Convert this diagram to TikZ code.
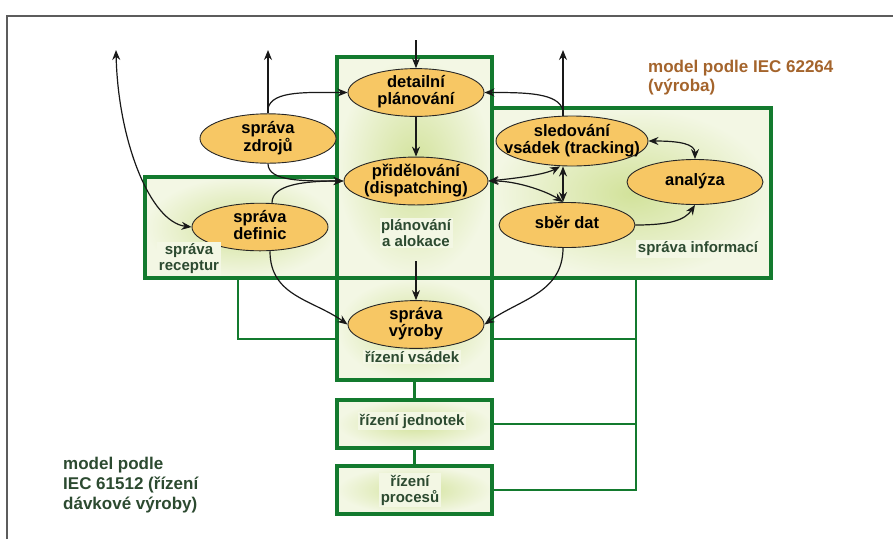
\documentclass[tikz,border=0pt]{standalone}
\usepackage{fontspec}
\setmainfont{Liberation Sans}
\usetikzlibrary{shapes.geometric,arrows.meta}
\definecolor{gborder}{HTML}{137A2E}
\definecolor{boxbg}{HTML}{F3F7E4}
\definecolor{glow}{HTML}{D2E29A}
\definecolor{ellfill}{HTML}{F7C764}
\definecolor{lbl}{HTML}{2C4A30}
\definecolor{brownt}{HTML}{A4642C}
\definecolor{framec}{HTML}{5C5C5C}
\newcommand{\etx}[1]{\makebox[0pt]{\begin{tabular}{@{}c@{}}#1\end{tabular}}}
\begin{document}
\begin{tikzpicture}[x=1pt,y=-1pt,
  area/.style={rectangle, draw=gborder, line width=3.6pt, inner color=glow, outer color=boxbg, outer sep=0pt, inner sep=0pt},
  ell/.style={ellipse, draw=black!85, line width=0.9pt, fill=ellfill, minimum width=136pt, minimum height=45pt, inner sep=0pt, font=\bfseries\fontsize{16.5}{16}\selectfont},
  lab/.style={font=\bfseries\fontsize{15}{16}\selectfont, text=lbl, fill=boxbg, inner sep=1.5pt, align=center},
  gline/.style={draw=gborder, line width=2.8pt},
  arr/.style={draw=black!90, line width=1.2pt, -{Stealth[length=10pt,width=8pt]}},
  darr/.style={draw=black!90, line width=1.2pt, {Stealth[length=10pt,width=8pt]}-{Stealth[length=10pt,width=8pt]}}
]
\useasboundingbox (0,0) rectangle (893,539);
% outer frame
\draw[framec, line width=2pt] (7,539) -- (7,16) -- (893,16);

% areas
\node[area, minimum width=192pt, minimum height=101pt] (rec) at (241,227.5) {};
\node[area, minimum width=279pt, minimum height=170pt] (info) at (631.5,193) {};
\node[area, minimum width=155pt, minimum height=221pt] (plan) at (414.5,167.5) {};
\node[area, minimum width=155pt, minimum height=102pt] (vsa) at (414.5,329) {};
\node[area, minimum width=155pt, minimum height=48pt] (jed) at (414.5,424) {};
\node[area, minimum width=155pt, minimum height=48pt] (pro) at (414.5,490) {};

% green connectors
\draw[gline] ([xshift=93pt]rec.south west) |- ([yshift=-10pt]vsa.west);
\draw[gline] ([xshift=144pt]info.south west) |- (pro.east);
\draw[gline] ([yshift=-10pt]vsa.east) -- ++(144,0);
\draw[gline] (jed.east) -- ++(144,0);
\draw[gline] (vsa.south) -- (jed.north);
\draw[gline] (jed.south) -- (pro.north);

% ellipses
\node[ell] (det) at (416,92.5) {\etx{detailní\\plánování}};
\node[ell, minimum width=144pt, minimum height=46pt] (pri) at (416,181) {\etx{přidělování\\(dispatching)}};
\node[ell] (zdr) at (268,138.5) {\etx{správa\\zdrojů}};
\node[ell] (def) at (260,227) {\etx{správa\\definic}};
\node[ell, minimum width=152pt, minimum height=50pt] (sled) at (572,141) {\etx{sledování\\vsádek (tracking)}};
\node[ell] (ana) at (695,182) {\etx{analýza}};
\node[ell] (sber) at (567,225) {\etx{sběr dat}};
\node[ell] (vyr) at (416,324.5) {\etx{správa\\výroby}};

% labels in areas
\node[lab] (lplan) at (416,233) {plánování\\a alokace};
\node[lab] (lrec) at (189,259) {správa\\receptur};
\node[lab] (linfo) at (698,249) {správa informací};
\node[lab] (lvsa) at (412,357) {řízení vsádek};
\node[lab] (ljed) at (412,421) {řízení jednotek};
\node[lab] (lpro) at (410,490) {řízení\\procesů};

% free ends
\coordinate (topin) at (416,40);
\coordinate (up1) at (116,50);
\coordinate (up2) at (268,50);
\coordinate (up3) at (563,50);
\coordinate (pa) at (416,261);

% arrows
\draw[arr] (topin) -- (det.north);
\draw[arr] (det.south) -- (pri.north);
\draw[darr] (up1) .. controls (118,140) and (150,222) .. (def.west);
\draw[arr] (zdr.north) -- (up2);
\draw[arr] ([yshift=5pt]zdr.north) .. controls +(4,-18) and +(-40,0) .. (det.west);
\draw[arr] (zdr.south) .. controls +(0,18) and +(-40,0) .. (pri.west);
\draw[arr] ([xshift=12pt]def.north) .. controls +(0,-18) and +(-40,0) .. (pri.west);
\draw[arr] ([xshift=10pt]def.south) .. controls +(0,45) and +(-35,-25) .. (vyr.west);
\draw[arr] (pa) -- (vyr.north);
\draw[arr] ([xshift=-4pt]sber.south) .. controls +(0,45) and +(35,-25) .. (vyr.east);
\draw[arr] ([xshift=-9pt]sled.north) -- (up3);
\draw[arr] ([xshift=-9pt,yshift=5pt]sled.north) .. controls +(-4,-18) and +(40,0) .. (det.east);
\draw[darr] (sled.east) .. controls +(32,0) and +(0,-15) .. (ana.north);
\draw[arr] (sber.east) .. controls +(35,0) and +(-10,15) .. (ana.south);
\draw[darr] (pri.east) .. controls +(30,-3) and +(-15,8) .. ([xshift=-12pt]sled.south);
\draw[darr] (pri.east) .. controls +(30,0) and +(-15,-10) .. ([xshift=-4pt]sber.north);
\draw[darr] ([xshift=-9pt]sled.south) -- ([xshift=-4pt]sber.north);

% titles
\node[anchor=north west, align=left, inner sep=0pt, text=brownt, font=\bfseries\fontsize{17}{19.5}\selectfont] (t1) at (648,59.5) {model podle IEC 62264\\(výroba)};
\node[anchor=north west, align=left, inner sep=0pt, text=lbl, font=\bfseries\fontsize{17}{20}\selectfont] (t2) at (63,456.5) {model podle\\IEC 61512 (řízení\\dávkové výroby)};
\end{tikzpicture}
\end{document}
